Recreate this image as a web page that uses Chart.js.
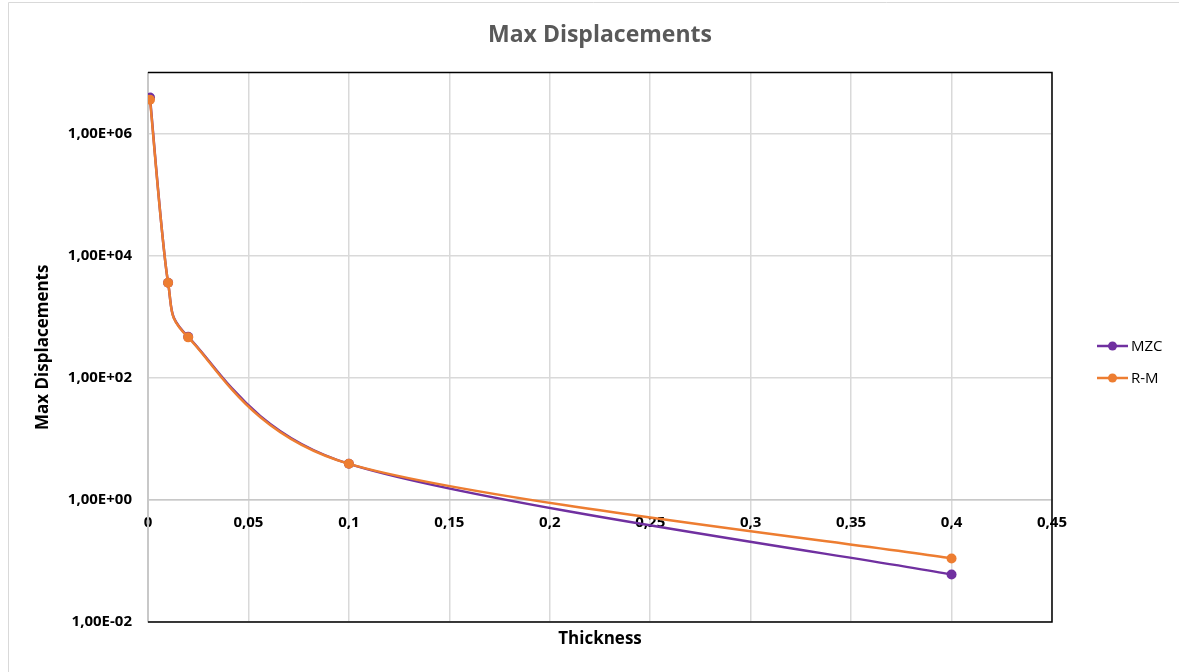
<!DOCTYPE html>
<html>
<head>
<meta charset="utf-8">
<script src="https://cdn.jsdelivr.net/npm/chart.js@4"></script>
<style>
  html, body { margin: 0; padding: 0; background: #fff; }
  #wrap { width: 1179px; height: 672px; position: relative; }
</style>
</head>
<body>
<div id="wrap"><canvas id="dispChart" width="1179" height="672"></canvas></div>
<script>
// chart data
const thickness = [0.001, 0.01, 0.02, 0.1, 0.4];
const mzcValues = [3.9e6, 3600, 470, 3.9, 0.06];
const rmValues = [3.6e6, 3600, 460, 3.9, 0.11];
const seriesNames = ['MZC', 'R-M'];
const seriesColors = ['#7030A0', '#ED7D31'];
const xTickValues = [0, 0.05, 0.1, 0.15, 0.2, 0.25, 0.3, 0.35, 0.4, 0.45];
const xTickLabels = ['0', '0,05', '0,1', '0,15', '0,2', '0,25', '0,3', '0,35', '0,4', '0,45'];
const yTickValues = [0.01, 1, 100, 10000, 1000000];
const yTickLabels = ['1,00E-02', '1,00E+00', '1,00E+02', '1,00E+04', '1,00E+06'];

const FONT = "'Open Sans', 'Liberation Sans', sans-serif";

function toPoints(xs, ys) {
    return xs.map((x, i) => ({ x: x, y: ys[i] }));
}

function dist(a, b) {
    return Math.hypot(b.x - a.x, b.y - a.y);
}

// excel style smoothing: control points at 1/6 of the neighbour chord,
// but never longer than half of the segment
const excelSmooth = {
    id: 'excelSmooth',
    beforeDatasetDraw(chart, args) {
        const meta = args.meta;
        if (!meta.dataset || !meta.dataset.updateControlPoints) return;
        meta.dataset.updateControlPoints(chart.chartArea);
        const pts = meta.data;
        for (let i = 0; i < pts.length; i++) {
            const p = pts[i];
            const prev = pts[Math.max(i - 1, 0)];
            const next = pts[Math.min(i + 1, pts.length - 1)];
            const chord = dist(prev, next) || 1;
            const fIn = Math.min(1 / 6, 0.5 * dist(prev, p) / chord);
            const fOut = Math.min(1 / 6, 0.5 * dist(p, next) / chord);
            p.cp1x = p.x - fIn * (next.x - prev.x);
            p.cp1y = p.y - fIn * (next.y - prev.y);
            p.cp2x = p.x + fOut * (next.x - prev.x);
            p.cp2y = p.y + fOut * (next.y - prev.y);
        }
    }
};

// box around plot, outer frame and legend
const extras = {
    id: 'extras',
    afterDraw(chart) {
        const ctx = chart.ctx;
        const a = chart.chartArea;
        ctx.save();
        // outer frame (only left and top visible in the picture)
        ctx.strokeStyle = '#d9d9d9';
        ctx.lineWidth = 1;
        ctx.beginPath();
        ctx.moveTo(8.5, 672);
        ctx.lineTo(8.5, 2.5);
        ctx.lineTo(1179, 2.5);
        ctx.stroke();
        // black box on top, right, bottom
        ctx.strokeStyle = '#000';
        ctx.lineWidth = 1.5;
        ctx.beginPath();
        ctx.moveTo(a.left, a.top);
        ctx.lineTo(a.right, a.top);
        ctx.lineTo(a.right, a.bottom);
        ctx.lineTo(a.left, a.bottom);
        ctx.stroke();
        // legend
        ctx.font = '15px ' + FONT;
        ctx.textBaseline = 'middle';
        ctx.textAlign = 'left';
        seriesNames.forEach((name, i) => {
            const y = 346 + i * 32;
            ctx.strokeStyle = seriesColors[i];
            ctx.lineWidth = 2.5;
            ctx.beginPath();
            ctx.moveTo(1097, y);
            ctx.lineTo(1128, y);
            ctx.stroke();
            ctx.fillStyle = seriesColors[i];
            ctx.beginPath();
            ctx.arc(1112.5, y, 4.5, 0, Math.PI * 2);
            ctx.fill();
            ctx.fillStyle = '#000';
            ctx.fillText(name, 1131, y + 1);
        });
        ctx.restore();
    }
};

const ctx = document.getElementById('dispChart').getContext('2d');
const chart = new Chart(ctx, {
    type: 'line',
    data: {
        datasets: [{
            label: seriesNames[0],
            data: toPoints(thickness, mzcValues),
            borderColor: seriesColors[0],
            backgroundColor: seriesColors[0],
            order: 1
        }, {
            label: seriesNames[1],
            data: toPoints(thickness, rmValues),
            borderColor: seriesColors[1],
            backgroundColor: seriesColors[1],
            order: 0
        }]
    },
    options: {
        responsive: false,
        animation: false,
        devicePixelRatio: 1,
        layout: { padding: { left: 0, right: 127, top: 0, bottom: 0 } },
        elements: {
            line: { borderWidth: 2.5, tension: 0.4, fill: false, capBezierPoints: false },
            point: { radius: 5, hoverRadius: 5, borderWidth: 0 }
        },
        plugins: {
            legend: { display: false },
            tooltip: { enabled: false },
            title: {
                display: true,
                text: 'Max Displacements',
                fullSize: false,
                color: '#595959',
                font: { family: FONT, size: 23, weight: 'bold' },
                padding: { top: 22, bottom: 23 }
            }
        },
        scales: {
            x: {
                type: 'linear',
                position: { y: 1 },
                min: 0,
                max: 0.45,
                afterBuildTicks: (scale) => {
                    scale.ticks = xTickValues.map(v => ({ value: v }));
                },
                ticks: {
                    color: '#000',
                    font: { family: FONT, size: 15, weight: 'bold' },
                    padding: 14,
                    maxRotation: 0,
                    autoSkip: false,
                    callback: (value, index) => xTickLabels[index]
                },
                grid: { color: '#d9d9d9', lineWidth: 1.5, drawTicks: false },
                border: { color: '#c8c8c8', width: 1.5 }
            },
            x2: {
                type: 'linear',
                position: 'bottom',
                min: 0,
                max: 0.45,
                afterFit: (scale) => { scale.height = 50; },
                ticks: { display: false },
                grid: { display: false, drawTicks: false },
                border: { display: false },
                title: {
                    display: true,
                    text: 'Thickness',
                    color: '#000',
                    font: { family: FONT, size: 17, weight: 'bold' },
                    padding: { top: 0, bottom: 23 }
                }
            },
            y: {
                type: 'logarithmic',
                position: 'left',
                min: 0.01,
                max: 1e7,
                afterFit: (scale) => { scale.width = 148; },
                afterBuildTicks: (scale) => {
                    scale.ticks = yTickValues.map(v => ({ value: v }));
                },
                ticks: {
                    color: '#000',
                    font: { family: FONT, size: 15, weight: 'bold' },
                    padding: 16,
                    autoSkip: false,
                    callback: (value, index) => yTickLabels[index]
                },
                grid: { color: '#d9d9d9', lineWidth: 1.5, drawTicks: false },
                border: { color: '#c8c8c8', width: 2 },
                title: {
                    display: true,
                    text: 'Max Displacements',
                    color: '#000',
                    font: { family: FONT, size: 17, weight: 'bold' },
                    padding: { top: 33, bottom: 0 }
                }
            }
        }
    },
    plugins: [excelSmooth, extras]
});
</script>
</body>
</html>
